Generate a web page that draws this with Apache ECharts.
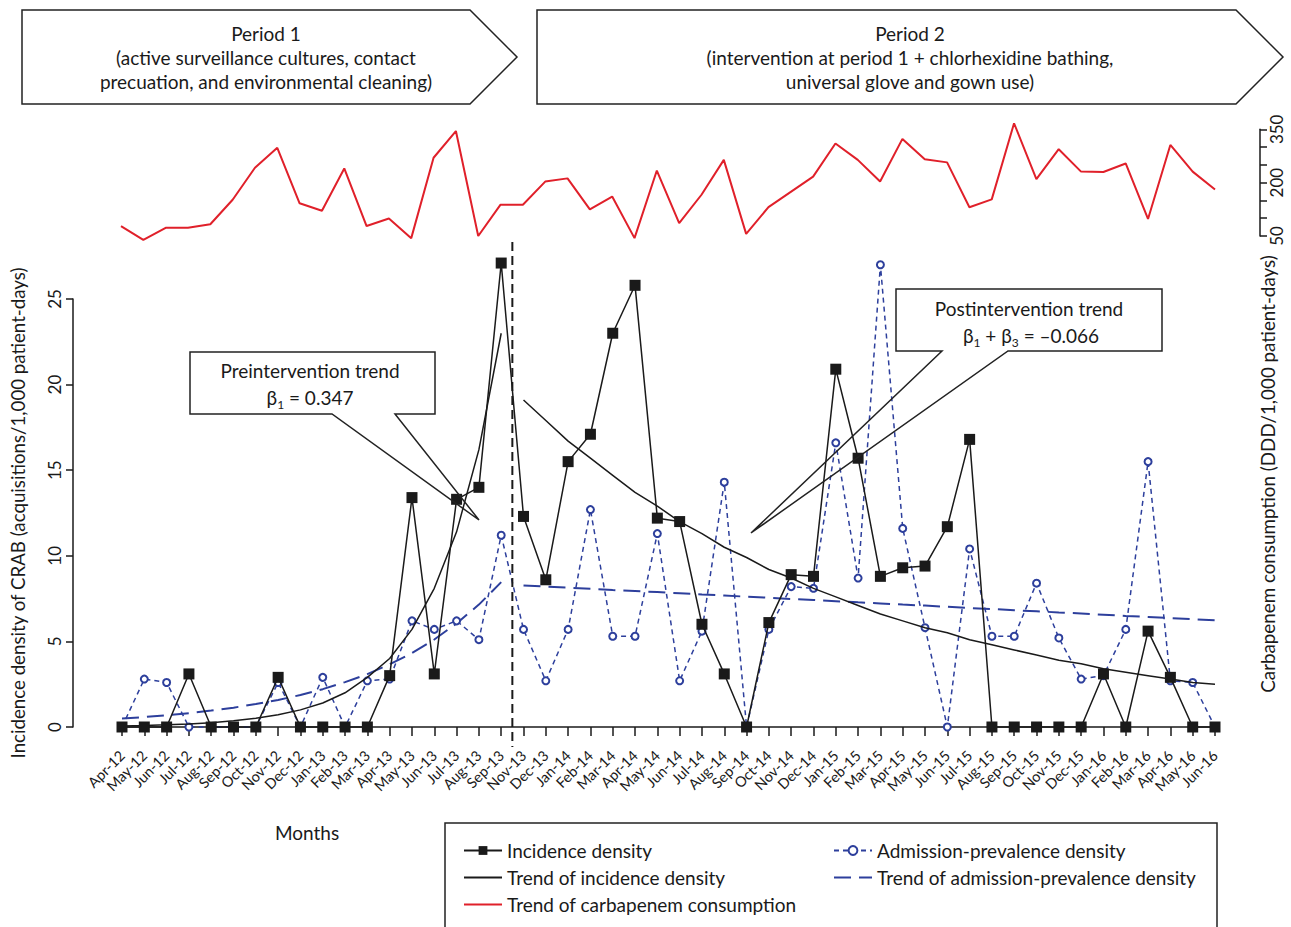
<!DOCTYPE html>
<html>
<head>
<meta charset="utf-8">
<script src="https://cdn.jsdelivr.net/npm/echarts@6/dist/echarts.min.js"></script>
<style>
html,body{margin:0;padding:0;background:#fff;}
#chart{width:1291px;height:927px;}
</style>
</head>
<body>
<div id="chart"></div>
<script>
// ---------------- DATA ----------------
const months = ['Apr-12','May-12','Jun-12','Jul-12','Aug-12','Sep-12','Oct-12','Nov-12','Dec-12',
  'Jan-13','Feb-13','Mar-13','Apr-13','May-13','Jun-13','Jul-13','Aug-13','Sep-13','Nov-13','Dec-13',
  'Jan-14','Feb-14','Mar-14','Apr-14','May-14','Jun-14','Jul-14','Aug-14','Sep-14','Oct-14','Nov-14','Dec-14',
  'Jan-15','Feb-15','Mar-15','Apr-15','May-15','Jun-15','Jul-15','Aug-15','Sep-15','Oct-15','Nov-15','Dec-15',
  'Jan-16','Feb-16','Mar-16','Apr-16','May-16','Jun-16'];

const incidenceDensity = [0,0,0,3.1,0,0,0,2.9,0,0,0,0,3.0,13.4,3.1,13.3,14.0,27.1,
  12.3,8.6,15.5,17.1,23.0,25.8,12.2,12.0,6.0,3.1,0,6.1,8.9,8.8,20.9,15.7,8.8,9.3,9.4,11.7,
  16.8,0,0,0,0,0,3.1,0,5.6,2.9,0,0];

const admissionPrevalence = [0,2.8,2.6,0,0,0,0,2.6,0,2.9,0,2.7,2.8,6.2,5.7,6.2,5.1,11.2,
  5.7,2.7,5.7,12.7,5.3,5.3,11.3,2.7,5.6,14.3,0,5.7,8.2,8.1,16.6,8.7,27.0,11.6,5.8,0,
  10.4,5.3,5.3,8.4,5.2,2.8,3.0,5.7,15.5,2.7,2.6,0];

// trend of incidence density (Apr-12..Sep-13) and (Nov-13..Jun-16)
const preTrendIncidence = [0.06,0.09,0.13,0.18,0.25,0.36,0.51,0.72,1.0,1.4,2.0,2.9,4.0,5.7,8.1,11.4,16.2,23.0];
const postTrendIncidence = [19.1,17.9,16.7,15.7,14.7,13.7,12.9,12.0,11.3,10.5,9.9,9.2,8.7,8.1,7.6,7.1,
  6.6,6.2,5.8,5.5,5.1,4.8,4.5,4.2,3.9,3.7,3.4,3.2,3.0,2.8,2.6,2.5];

// trend of admission-prevalence density
const preTrendAdmission = [0.49,0.58,0.69,0.81,0.96,1.13,1.34,1.58,1.87,2.21,2.62,3.09,3.66,4.32,5.11,6.05,7.15,8.46];
const postTrendAdmission = [8.27,8.2,8.14,8.07,8.0,7.94,7.88,7.81,7.74,7.68,7.61,7.55,7.48,7.42,7.35,7.28,
  7.22,7.15,7.09,7.02,6.95,6.89,6.82,6.76,6.69,6.63,6.56,6.49,6.43,6.36,6.3,6.23];

// carbapenem consumption (DDD/1,000 patient-days)
const carbapenem = [78,39,73,73,83,152,242,298,142,121,240,78,99,44,270,345,50,138,
  138,203,212,125,161,44,234,86,166,264,56,131,174,217,310,264,203,323,266,257,
  131,153,367,210,294,231,230,254,98,306,231,181];

const leftTicks = [0,5,10,15,20,25];
const rightTickLabels = [50,200,350];

// ---------------- BUILD ----------------
const nPre = preTrendIncidence.length;
const nPost = postTrendIncidence.length;
const pad = n => new Array(n).fill(null);
const preInc = preTrendIncidence.concat(pad(nPost));
const postInc = pad(nPre).concat(postTrendIncidence);
const preAdm = preTrendAdmission.concat(pad(nPost));
const postAdm = pad(nPre).concat(postTrendAdmission);

const FONT = 'Lato';
const BLACK = '#1a1a1a';
const BLUE = '#2d3f9c';
const RED = '#e0202a';

const chart = echarts.init(document.getElementById('chart'), null, {renderer: 'svg'});

const lineIcon = 'path://M0,0H38V2H0Z';
const dashIcon = 'path://M0,0H17V2H0Z M25,0H38V2H25Z';

const legendText = {fontSize: 19, color: BLACK, fontFamily: FONT, lineHeight: 19};

const option = {
  backgroundColor: '#fff',
  animation: false,
  textStyle: {fontFamily: FONT, color: BLACK},
  grid: [
    {left: 121, right: 76, top: 299, height: 428},
    {left: 121, right: 76, top: 129.3, height: 106.7}
  ],
  xAxis: [
    {
      type: 'category', gridIndex: 0, data: months, boundaryGap: false, offset: 20,
      axisLine: {lineStyle: {color: BLACK, width: 1.5}},
      axisTick: {length: 9, interval: 0, lineStyle: {color: BLACK, width: 1.5}},
      axisLabel: {rotate: 45, interval: 0, fontSize: 14.5, color: BLACK, fontFamily: FONT, margin: 6},
      splitLine: {show: false}
    },
    {type: 'category', gridIndex: 1, data: months, boundaryGap: false, show: false}
  ],
  yAxis: [
    {
      type: 'value', gridIndex: 0, min: 0, max: 25, interval: 5, position: 'left', offset: 49,
      axisLine: {show: true, lineStyle: {color: BLACK, width: 1.5}},
      axisTick: {show: true, length: 7, lineStyle: {color: BLACK, width: 1.5}},
      axisLabel: {rotate: 90, fontSize: 17, color: BLACK, fontFamily: FONT, margin: 10,
        formatter: v => leftTicks.indexOf(v) >= 0 ? String(v) : ''},
      splitLine: {show: false},
      name: 'Incidence density of CRAB (acquisitions/1,000 patient-days)',
      nameLocation: 'middle', nameGap: 46, nameRotate: 90,
      nameTextStyle: {fontSize: 18.7, color: BLACK, fontFamily: FONT}
    },
    {
      type: 'value', gridIndex: 1, min: 50, max: 350, interval: 50, position: 'right', offset: 45,
      axisLine: {show: true, lineStyle: {color: BLACK, width: 1.5}},
      axisTick: {show: true, length: 7, lineStyle: {color: BLACK, width: 1.5}},
      axisLabel: {rotate: 90, fontSize: 17, color: BLACK, fontFamily: FONT, margin: 8,
        formatter: v => rightTickLabels.indexOf(v) >= 0 ? String(v) : ''},
      splitLine: {show: false}
    }
  ],
  legend: [
    {
      orient: 'vertical', left: 458, top: 836, itemGap: 8, itemWidth: 38, itemHeight: 11,
      textStyle: legendText, selectedMode: false,
      data: [
        {name: 'Incidence density'},
        {name: 'Trend of incidence density', icon: lineIcon},
        {name: 'Trend of carbapenem consumption', icon: lineIcon}
      ]
    },
    {
      orient: 'vertical', left: 828, top: 836, itemGap: 8, itemWidth: 38, itemHeight: 11,
      textStyle: legendText, selectedMode: false,
      data: [
        {name: 'Admission-prevalence density'},
        {name: 'Trend of admission-prevalence density', icon: dashIcon}
      ]
    }
  ],
  series: [
    {
      name: 'Trend of admission-prevalence density', type: 'line', data: preAdm, xAxisIndex: 0, yAxisIndex: 0,
      symbol: 'none', clip: false,
      lineStyle: {color: BLUE, width: 2, type: [17, 8]}, itemStyle: {color: BLUE}, z: 3
    },
    {
      name: 'Trend of admission-prevalence density', type: 'line', data: postAdm, xAxisIndex: 0, yAxisIndex: 0,
      symbol: 'none', clip: false,
      lineStyle: {color: BLUE, width: 2, type: [17, 8]}, itemStyle: {color: BLUE}, z: 3
    },
    {
      name: 'Admission-prevalence density', type: 'line', data: admissionPrevalence, xAxisIndex: 0, yAxisIndex: 0,
      symbol: 'emptyCircle', symbolSize: 7, clip: false,
      lineStyle: {color: BLUE, width: 1.5, type: [5, 4]},
      itemStyle: {color: BLUE, borderColor: BLUE, borderWidth: 1.5}, z: 4
    },
    {
      name: 'Trend of incidence density', type: 'line', data: preInc, xAxisIndex: 0, yAxisIndex: 0,
      symbol: 'none', clip: false,
      lineStyle: {color: BLACK, width: 1.5}, itemStyle: {color: BLACK}, z: 5
    },
    {
      name: 'Trend of incidence density', type: 'line', data: postInc, xAxisIndex: 0, yAxisIndex: 0,
      symbol: 'none', clip: false,
      lineStyle: {color: BLACK, width: 1.5}, itemStyle: {color: BLACK}, z: 5
    },
    {
      name: 'Incidence density', type: 'line', data: incidenceDensity, xAxisIndex: 0, yAxisIndex: 0,
      symbol: 'rect', symbolSize: 11, clip: false,
      lineStyle: {color: BLACK, width: 1.5}, itemStyle: {color: BLACK}, z: 6
    },
    {
      name: 'Trend of carbapenem consumption', type: 'line', data: carbapenem, xAxisIndex: 1, yAxisIndex: 1,
      symbol: 'none', clip: false,
      lineStyle: {color: RED, width: 2}, itemStyle: {color: RED}, z: 5
    }
  ]
};
chart.setOption(option);

// ---------------- ANNOTATIONS ----------------
const xSep = chart.convertToPixel({xAxisIndex: 0}, 'Sep-13');
const xNov = chart.convertToPixel({xAxisIndex: 0}, 'Nov-13');
const xDiv = (xSep + xNov) / 2;
const yZeroPx = chart.convertToPixel({yAxisIndex: 0}, 0);

const txt = (x, y, s, size, extra, rot) => ({
  type: 'text', x: x, y: y, z: 100, rotation: rot || 0,
  style: Object.assign({text: s, fontSize: size, fontFamily: FONT, fill: BLACK, align: 'center', verticalAlign: 'middle'}, extra || {})
});

const subRich = {
  a: {fontSize: 19, fontFamily: FONT, fill: BLACK, lineHeight: 22},
  s: {fontSize: 12, fontFamily: FONT, fill: BLACK, padding: [15, 0, 0, 0], lineHeight: 12}
};

chart.setOption({
  graphic: [
    // period banners
    {type: 'polygon', z: 90, shape: {points: [[22,10],[470,10],[517,57],[470,104],[22,104]]},
      style: {fill: '#fff', stroke: '#222', lineWidth: 1.5}},
    txt(266, 57, 'Period 1\n(active surveillance cultures, contact\nprecuation, and environmental cleaning)', 19, {lineHeight: 24}),
    {type: 'polygon', z: 90, shape: {points: [[537,10],[1236,10],[1283,57],[1236,104],[537,104]]},
      style: {fill: '#fff', stroke: '#222', lineWidth: 1.5}},
    txt(910, 57, 'Period 2\n(intervention at period 1 + chlorhexidine bathing,\nuniversal glove and gown use)', 19, {lineHeight: 24}),
    // divider
    {type: 'line', z: 50, shape: {x1: xDiv, y1: 242, x2: xDiv, y2: yZeroPx + 20},
      style: {stroke: BLACK, lineWidth: 2, lineDash: [9, 5]}},
    // pre-intervention callout
    {type: 'rect', z: 59, shape: {x: 190, y: 352, width: 245, height: 62}, style: {fill: '#fff', stroke: null}},
    {type: 'polygon', z: 60, shape: {points: [[190,352],[435,352],[435,414],[395,414],[479,520],[332,414],[190,414]]},
      style: {fill: null, stroke: '#222', lineWidth: 1.5}},
    txt(310, 370, 'Preintervention trend', 19),
    {type: 'text', x: 310, y: 397, z: 100, style: {
      text: '{a|β}{s|1}{a| = 0.347}', rich: subRich, align: 'center', verticalAlign: 'middle'}},
    // post-intervention callout
    {type: 'rect', z: 59, shape: {x: 896, y: 289, width: 266, height: 62}, style: {fill: '#fff', stroke: null}},
    {type: 'polygon', z: 60, shape: {points: [[896,289],[1162,289],[1162,351],[1008,351],[751,533],[942,351],[896,351]]},
      style: {fill: null, stroke: '#222', lineWidth: 1.5}},
    txt(1029, 308, 'Postintervention trend', 19),
    {type: 'text', x: 1031, y: 335, z: 100, style: {
      text: '{a|β}{s|1}{a| + β}{s|3}{a| = –0.066}', rich: subRich, align: 'center', verticalAlign: 'middle'}},
    // right axis title
    txt(1267, 474, 'Carbapenem consumption (DDD/1,000 patient-days)', 18.8, {}, Math.PI / 2),
    // x-axis title
    txt(307, 832, 'Months', 19),
    // legend box
    {type: 'rect', z: 1, shape: {x: 445, y: 823, width: 772, height: 112},
      style: {fill: 'none', stroke: '#222', lineWidth: 1.5}}
  ]
});
</script>
</body>
</html>
